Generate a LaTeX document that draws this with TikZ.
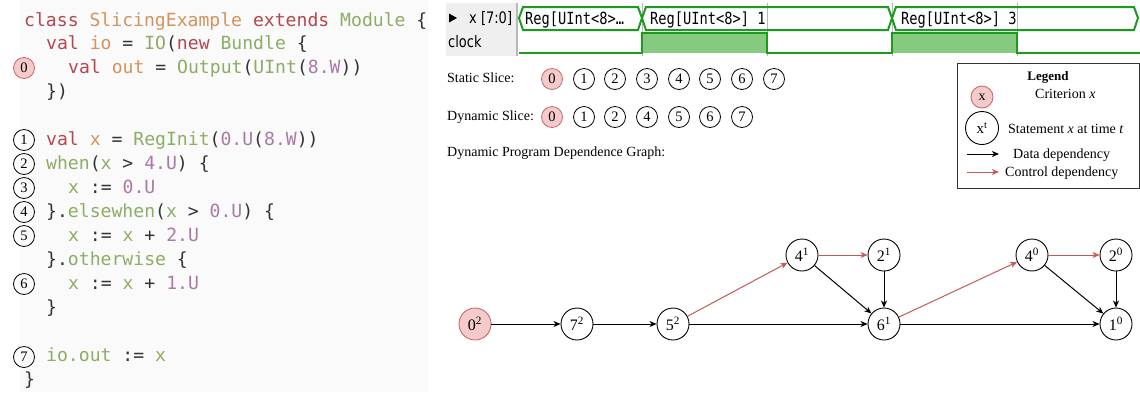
\documentclass[tikz,border=0pt]{standalone}
\usepackage{fontspec}
\usepackage{xcolor}
\usepackage{graphicx}
\setmainfont{Liberation Serif}
\newfontfamily\codefont{DejaVu Sans Mono}
\newfontfamily\wavefont{DejaVu Sans}
\usetikzlibrary{arrows.meta}

\definecolor{codebg}{HTML}{FAFAFA}
\definecolor{kwred}{HTML}{B2474F}
\definecolor{idorange}{HTML}{D4935E}
\definecolor{tygreen}{HTML}{8EAC66}
\definecolor{numpurple}{HTML}{A97AA8}
\definecolor{codeink}{HTML}{333333}
\definecolor{critfill}{HTML}{F5CACA}
\definecolor{critdraw}{HTML}{C8686A}
\definecolor{ctrlred}{HTML}{C55A55}
\definecolor{wavegreen}{HTML}{1E9A1E}
\definecolor{wavefill}{HTML}{86CA80}
\definecolor{wavegrid}{HTML}{B8B8B8}
\definecolor{wavelabel}{HTML}{EFEFEF}

\newcommand{\cKw}[1]{\textcolor{kwred}{#1}}
\newcommand{\cId}[1]{\textcolor{idorange}{#1}}
\newcommand{\cTy}[1]{\textcolor{tygreen}{#1}}
\newcommand{\cNum}[1]{\textcolor{numpurple}{#1}}
\newcommand{\tallwave}[1]{\scalebox{1}[1.22]{#1}}

\begin{document}
\begin{tikzpicture}[x=1pt,y=-1pt,
  codeline/.style={anchor=base west,inner sep=0pt,text=codeink,
    font=\codefont\fontsize{18.1}{20}\selectfont},
  linemark/.style={circle,draw,line width=0.8pt,minimum size=21pt,inner sep=0pt,
    font=\fontsize{14.5}{14.5}\selectfont},
  critmark/.style={linemark,fill=critfill,draw=critdraw},
  plain/.style={anchor=west,inner sep=0pt,font=\fontsize{14}{16}\selectfont},
  stmt/.style={circle,draw,line width=0.9pt,minimum size=32pt,inner sep=0pt,
    font=\fontsize{16}{16}\selectfont},
  crit/.style={stmt,fill=critfill,draw=critdraw},
  dataedge/.style={draw=black,line width=1pt,
    -{Stealth[length=7pt,width=6pt,inset=2pt]}},
  ctrledge/.style={draw=ctrlred,line width=1pt,
    -{Stealth[length=7pt,width=6pt,inset=2pt]}},
  wavetext/.style={anchor=base west,inner sep=0pt,
    font=\codefont\fontsize{13.7}{14}\selectfont},
  wavelab/.style={anchor=base west,inner sep=0pt,
    font=\wavefont\fontsize{13}{14}\selectfont},
  wavebox/.style={draw=wavegreen,line width=2pt,line join=miter}
]
\useasboundingbox (0,0) rectangle (1140,392);
\fill[white] (0,0) rectangle (1140,392);

% ---------- Chisel source ----------
\fill[codebg] (20,0) rectangle (428,392);
\node[codeline] (c0)  at (24,26.0)  {\cKw{class} \cId{SlicingExample} \cKw{extends} \cTy{Module} \{};
\node[codeline] (c1)  at (46,49.95) {\cKw{val} \cId{io} = \cTy{IO}(\cKw{new} \cTy{Bundle} \{};
\node[codeline] (c2)  at (68,73.9)  {\cKw{val} \cId{out} = \cTy{Output}(\cTy{UInt}(\cNum{8.W}))};
\node[codeline] (c3)  at (46,97.85) {\})};
\node[codeline] (c5)  at (46,145.75){\cKw{val} \cId{x} = \cTy{RegInit}(\cNum{0.U}(\cNum{8.W}))};
\node[codeline] (c6)  at (46,169.7) {\cTy{when}(\cTy{x} > \cNum{4.U}) \{};
\node[codeline] (c7)  at (68,193.65){\cTy{x} := \cNum{0.U}};
\node[codeline] (c8)  at (46,217.6) {\}.\cTy{elsewhen}(\cTy{x} > \cNum{0.U}) \{};
\node[codeline] (c9)  at (68,241.55){\cTy{x} := \cTy{x} + \cNum{2.U}};
\node[codeline] (c10) at (46,265.5) {\}.\cTy{otherwise} \{};
\node[codeline] (c11) at (68,289.45){\cTy{x} := \cTy{x} + \cNum{1.U}};
\node[codeline] (c12) at (46,313.4) {\}};
\node[codeline] (c14) at (46,361.3) {\cTy{io.out} := \cTy{x}};
\node[codeline] (c15) at (24,385.25){\}};

\node[critmark] (m0) at (24,68)  {0};
\node[linemark] (m1) at (24,140) {1};
\node[linemark] (m2) at (24,164) {2};
\node[linemark] (m3) at (24,188) {3};
\node[linemark] (m4) at (24,212) {4};
\node[linemark] (m5) at (24,236) {5};
\node[linemark] (m6) at (24,284) {6};
\node[linemark] (m7) at (24,357) {7};

% ---------- waveform viewer ----------
\fill[wavelabel] (446,3) rectangle (516,56);
\foreach \gx in {642,767,892,1017}
  \draw[wavegrid,line width=1pt] (\gx,3) -- (\gx,56);
\draw[wavegrid,line width=2pt] (517,3) -- (517,56);
\fill[black] (449,13.5) -- (457,18) -- (449,22.5) -- cycle;
\node[wavelab] (xlab) at (469,23.5) {\tallwave{x [7:0]}};
\node[wavelab] (clklab) at (448,47.5) {\tallwave{clock}};

% register value segments
\draw[wavebox] (519,18) -- (523,7) -- (638,7) -- (642,18) -- (638,30) -- (523,30) -- cycle;
\draw[wavebox] (642,18) -- (646,7) -- (888,7) -- (892,18) -- (888,30) -- (646,30) -- cycle;
\draw[wavebox] (892,18) -- (896,7) -- (1134,7) -- (1138,18) -- (1134,30) -- (896,30) -- cycle;
\node[wavetext] (v0) at (525,24) {\tallwave{Reg[UInt<8>…}};
\node[wavetext] (v1) at (650,24) {\tallwave{Reg[UInt<8>] 1}};
\node[wavetext] (v2) at (901,24) {\tallwave{Reg[UInt<8>] 3}};

% clock trace
\fill[wavefill] (642,33) rectangle (767,53);
\fill[wavefill] (892,33) rectangle (1017,53);
\draw[draw=wavegreen,line width=2pt]
  (519,53) -- (642,53) -- (642,33) -- (767,33) -- (767,53) -- (892,53)
  -- (892,33) -- (1017,33) -- (1017,53) -- (1140,53);

% ---------- slices ----------
\node[plain] (ss) at (447,78) {Static Slice:};
\node[critmark] (s0) at (552,79) {0};
\node[linemark] (s1) at (584,79) {1};
\node[linemark] (s2) at (615,79) {2};
\node[linemark] (s3) at (647,79) {3};
\node[linemark] (s4) at (679,79) {4};
\node[linemark] (s5) at (710,79) {5};
\node[linemark] (s6) at (742,79) {6};
\node[linemark] (s7) at (774,79) {7};

\node[plain] (ds) at (447,117) {Dynamic Slice:};
\node[critmark] (d0) at (552,117) {0};
\node[linemark] (d1) at (584,117) {1};
\node[linemark] (d2) at (615,117) {2};
\node[linemark] (d4) at (647,117) {4};
\node[linemark] (d5) at (679,117) {5};
\node[linemark] (d6) at (710,117) {6};
\node[linemark] (d7) at (742,117) {7};

\node[plain] (dg) at (447,153) {Dynamic Program Dependence Graph:};

% ---------- legend ----------
\draw[line width=0.9pt,draw=black!80] (957,63) rectangle (1139,188);
\node[font=\bfseries\fontsize{13}{14}\selectfont,inner sep=0pt] (lgt) at (1048,77) {Legend};
\node[crit,minimum size=22pt,font=\fontsize{14}{14}\selectfont] (lgc) at (982,97) {x};
\node[plain] (lgct) at (1035,94) {Criterion \textit{x}};
\node[stmt,minimum size=33pt,font=\fontsize{15}{15}\selectfont] (lgs) at (982,128) {x\textsuperscript{t}};
\node[plain] (lgst) at (1008,129) {Statement \textit{x} at time \textit{t}};
\coordinate (lda) at (967,154);
\coordinate (ldb) at (999,154);
\coordinate (lca) at (967,172);
\coordinate (lcb) at (999,172);
\draw[dataedge] (lda) -- (ldb);
\draw[ctrledge] (lca) -- (lcb);
\node[plain] (lgdt) at (1013,155) {Data dependency};
\node[plain] (lgct2) at (1005,173) {Control dependency};

% ---------- dependence graph ----------
\node[crit] (n02) at (475,324) {0\textsuperscript{2}};
\node[stmt] (n72) at (577,324) {7\textsuperscript{2}};
\node[stmt] (n52) at (673,324) {5\textsuperscript{2}};
\node[stmt] (n41) at (802,255) {4\textsuperscript{1}};
\node[stmt] (n21) at (884,255) {2\textsuperscript{1}};
\node[stmt] (n61) at (884,324) {6\textsuperscript{1}};
\node[stmt] (n40) at (1032,255) {4\textsuperscript{0}};
\node[stmt] (n20) at (1116,255) {2\textsuperscript{0}};
\node[stmt] (n10) at (1116,324) {1\textsuperscript{0}};

\draw[dataedge] (n02) -- (n72);
\draw[dataedge] (n72) -- (n52);
\draw[dataedge] (n52) -- (n61);
\draw[ctrledge] (n52) -- (n41);
\draw[ctrledge] (n41) -- (n21);
\draw[dataedge] (n41) -- (n61);
\draw[dataedge] (n21) -- (n61);
\draw[ctrledge] (n61) -- (n40);
\draw[dataedge] (n61) -- (n10);
\draw[ctrledge] (n40) -- (n20);
\draw[dataedge] (n40) -- (n10);
\draw[dataedge] (n20) -- (n10);
\end{tikzpicture}
\end{document}
